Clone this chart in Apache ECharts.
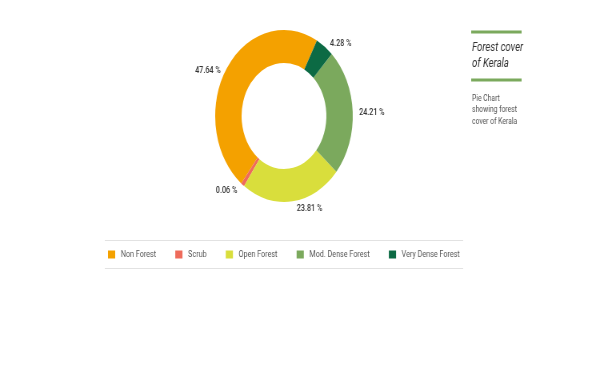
<!DOCTYPE html>
<html><head><meta charset="utf-8">
<script src="https://cdn.jsdelivr.net/npm/echarts@6/dist/echarts.min.js"></script>
<style>html,body{margin:0;padding:0;background:#fff;overflow:hidden}
#wrap{width:597px;height:366px;overflow:hidden}
#chart{width:746px;height:366px;transform:scaleX(0.8);transform-origin:0 0}</style>
</head><body><div id="wrap"><div id="chart"></div></div>
<script>
const categories = ['Non Forest', 'Scrub', 'Open Forest', 'Mod. Dense Forest', 'Very Dense Forest'];
const shares = [47.64, 0.06, 23.81, 24.21, 4.28];
const colors = ['#F4A100', '#EE6B5B', '#D9DE3C', '#7BA95D', '#0C6A44'];
const titleLines = ['Forest cover', 'of Kerala'];
const noteLines = ['Pie Chart', 'showing forest', 'cover of Kerala'];

const chart = echarts.init(document.getElementById('chart'), null, {renderer: 'canvas'});
const FONT = 'Roboto';
const labelStyle = {fontFamily: FONT, fontSize: 9, fontWeight: 500, color: '#333', lineHeight: 11};
const option = {
  animation: false,
  color: colors,
  legend: {
    left: 130, top: 245,
    icon: 'rect', itemWidth: 9, itemHeight: 8, itemGap: 24,
    textStyle: {fontFamily: FONT, fontSize: 9, color: '#555', padding: [0, 0, 0, 2]},
    data: categories
  },
  graphic: [
    {type: 'line', shape: {x1: 131, y1: 240.5, x2: 579, y2: 240.5}, style: {stroke: '#e2e2e2', lineWidth: 1}},
    {type: 'line', shape: {x1: 131, y1: 268.5, x2: 579, y2: 268.5}, style: {stroke: '#e2e2e2', lineWidth: 1}},
    {type: 'rect', shape: {x: 589, y: 30.5, width: 63, height: 3}, style: {fill: '#7BA95D'}},
    {type: 'rect', shape: {x: 589, y: 78.5, width: 63, height: 3}, style: {fill: '#7BA95D'}},
    {type: 'text', left: 590, top: 40, style: {text: titleLines.join('\n'), fontFamily: FONT, fontStyle: 'italic', fontSize: 12, lineHeight: 16, fill: '#333'}},
    {type: 'text', left: 590, top: 93, style: {text: noteLines.join('\n'), fontFamily: FONT, fontSize: 8.5, lineHeight: 11.5, fill: '#555'}}
  ],
  series: [{
    type: 'pie',
    center: [355, 116],
    radius: [53, 86],
    startAngle: 61.4,
    clockwise: false,
    minAngle: 3,
    avoidLabelOverlap: false,
    label: {
      show: true, position: 'outside',
      ...labelStyle,
      rich: {gap: {lineHeight: 8, fontSize: 1}, gapS: {lineHeight: 3, fontSize: 1}, v: labelStyle},
      formatter: p => {
        const t = '{v|' + p.value.toFixed(2) + ' %}';
        if (p.dataIndex === 4) return t;
        if (p.dataIndex === 3) return '{gapS|}\n' + t;
        return '{gap|}\n' + t;
      }
    },
    labelLine: {show: false, length: 3, length2: 0},
    emphasis: {disabled: true},
    data: categories.map((c, i) => ({name: c, value: shares[i]}))
  }]
};
chart.setOption(option);
</script></body></html>
